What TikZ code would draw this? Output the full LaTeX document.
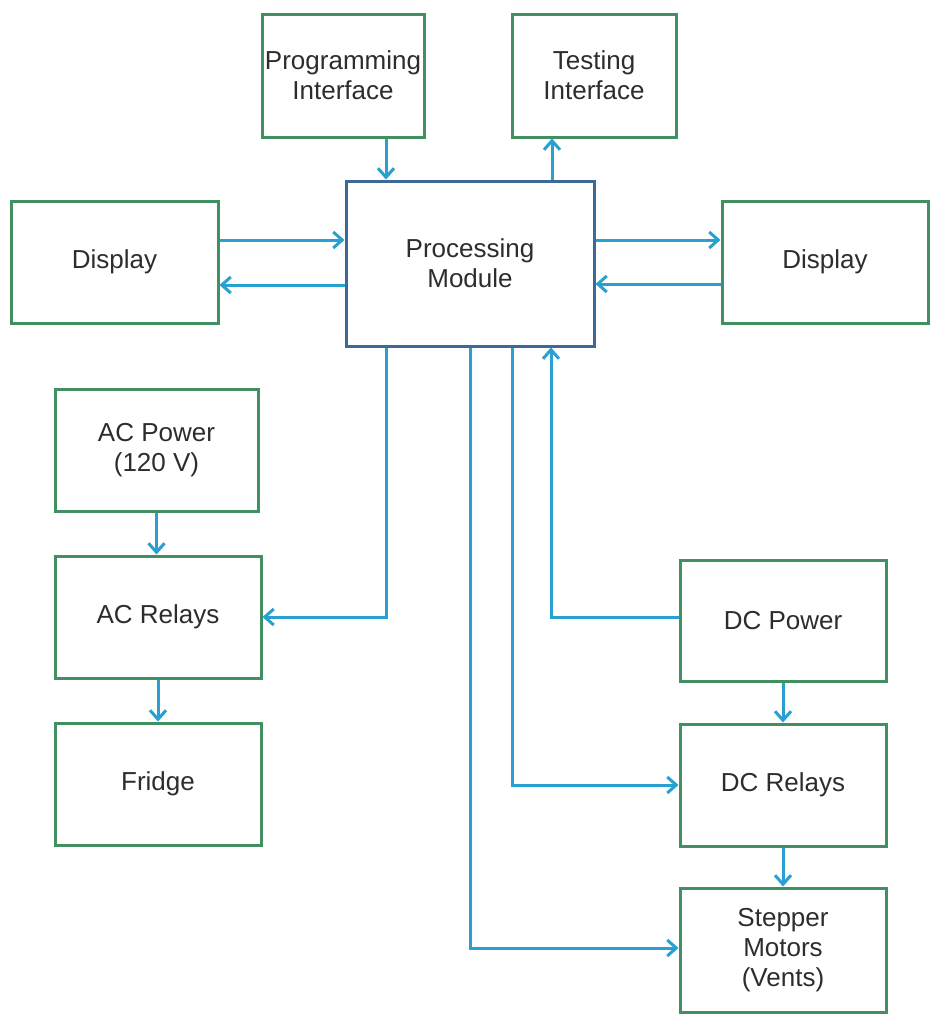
\documentclass[tikz,border=0pt]{standalone}
\usepackage{fontspec}
\setmainfont{Liberation Sans}
\usetikzlibrary{arrows.meta}
\definecolor{boxgreen}{RGB}{66,144,98}
\definecolor{pmblue}{RGB}{60,105,150}
\definecolor{arrblue}{RGB}{40,160,210}
\definecolor{txt}{RGB}{45,45,45}
\tikzset{
  blk/.style={draw=boxgreen, line width=3pt, fill=white, align=center, text=txt,
    font=\fontsize{26}{30}\selectfont, inner sep=0pt},
  pmbox/.style={blk, draw=pmblue, line width=3pt},
  arr/.style={draw=arrblue, line width=3pt, -{Straight Barb[length=9pt,width=16pt,line width=3pt]}},
}
\begin{document}
\begin{tikzpicture}[x=1pt,y=-1pt]
\useasboundingbox[fill=white] (0,0) rectangle (931,1026);
\node[blk, minimum width=162pt, minimum height=123pt] (PI) at (343,75.5) {Programming\\Interface};
\node[blk, minimum width=164pt, minimum height=123pt] (TI) at (594,75.5) {Testing\\Interface};
\node[blk, minimum width=207pt, minimum height=122pt] (DL) at (114.5,262) {Display};
\node[pmbox, minimum width=248pt, minimum height=165pt] (PM) at (470,263.5) {Processing\\Module};
\node[blk, minimum width=206pt, minimum height=122pt] (DR) at (825,262) {Display};
\node[blk, minimum width=203pt, minimum height=122pt] (ACP) at (156.5,450) {AC Power\\(120 V)};
\node[blk, minimum width=206pt, minimum height=122pt] (ACR) at (158,617) {AC Relays};
\node[blk, minimum width=206pt, minimum height=122pt] (FR) at (158,784) {Fridge};
\node[blk, minimum width=206pt, minimum height=121pt] (DCP) at (783,620.5) {DC Power};
\node[blk, minimum width=206pt, minimum height=122pt] (DCR) at (783,785) {DC Relays};
\node[blk, minimum width=206pt, minimum height=124pt] (SM) at (783,950) {Stepper\\Motors\\(Vents)};

\draw[arr] ([xshift=43pt]PI.south) -- ([xshift=43pt]PI.south |- PM.north);
\draw[arr] ([xshift=-42pt]TI.south |- PM.north) -- ([xshift=-42pt]TI.south);
\draw[arr] ([yshift=22pt]DL.east) -- ([yshift=22pt]DL.east -| PM.west);
\draw[arr] ([yshift=-23pt]DL.east -| PM.west) -- ([yshift=-23pt]DL.east);
\draw[arr] ([yshift=22pt]DR.west -| PM.east) -- ([yshift=22pt]DR.west);
\draw[arr] ([yshift=-22pt]DR.west) -- ([yshift=-22pt]DR.west -| PM.east);
\draw[arr] ([xshift=-84pt]PM.south) |- (ACR.east);
\draw[arr] (PM.south) |- ([yshift=2pt]SM.west);
\draw[arr] ([xshift=42pt]PM.south) |- (DCR.west);
\draw[arr] ([yshift=3pt]DCP.west) -| ([xshift=81pt]PM.south);
\draw[arr] (ACP.south) -- (ACP.south |- ACR.north);
\draw[arr] (ACR.south) -- (FR.north);
\draw[arr] (DCP.south) -- (DCR.north);
\draw[arr] (DCR.south) -- (SM.north);
\end{tikzpicture}
\end{document}
